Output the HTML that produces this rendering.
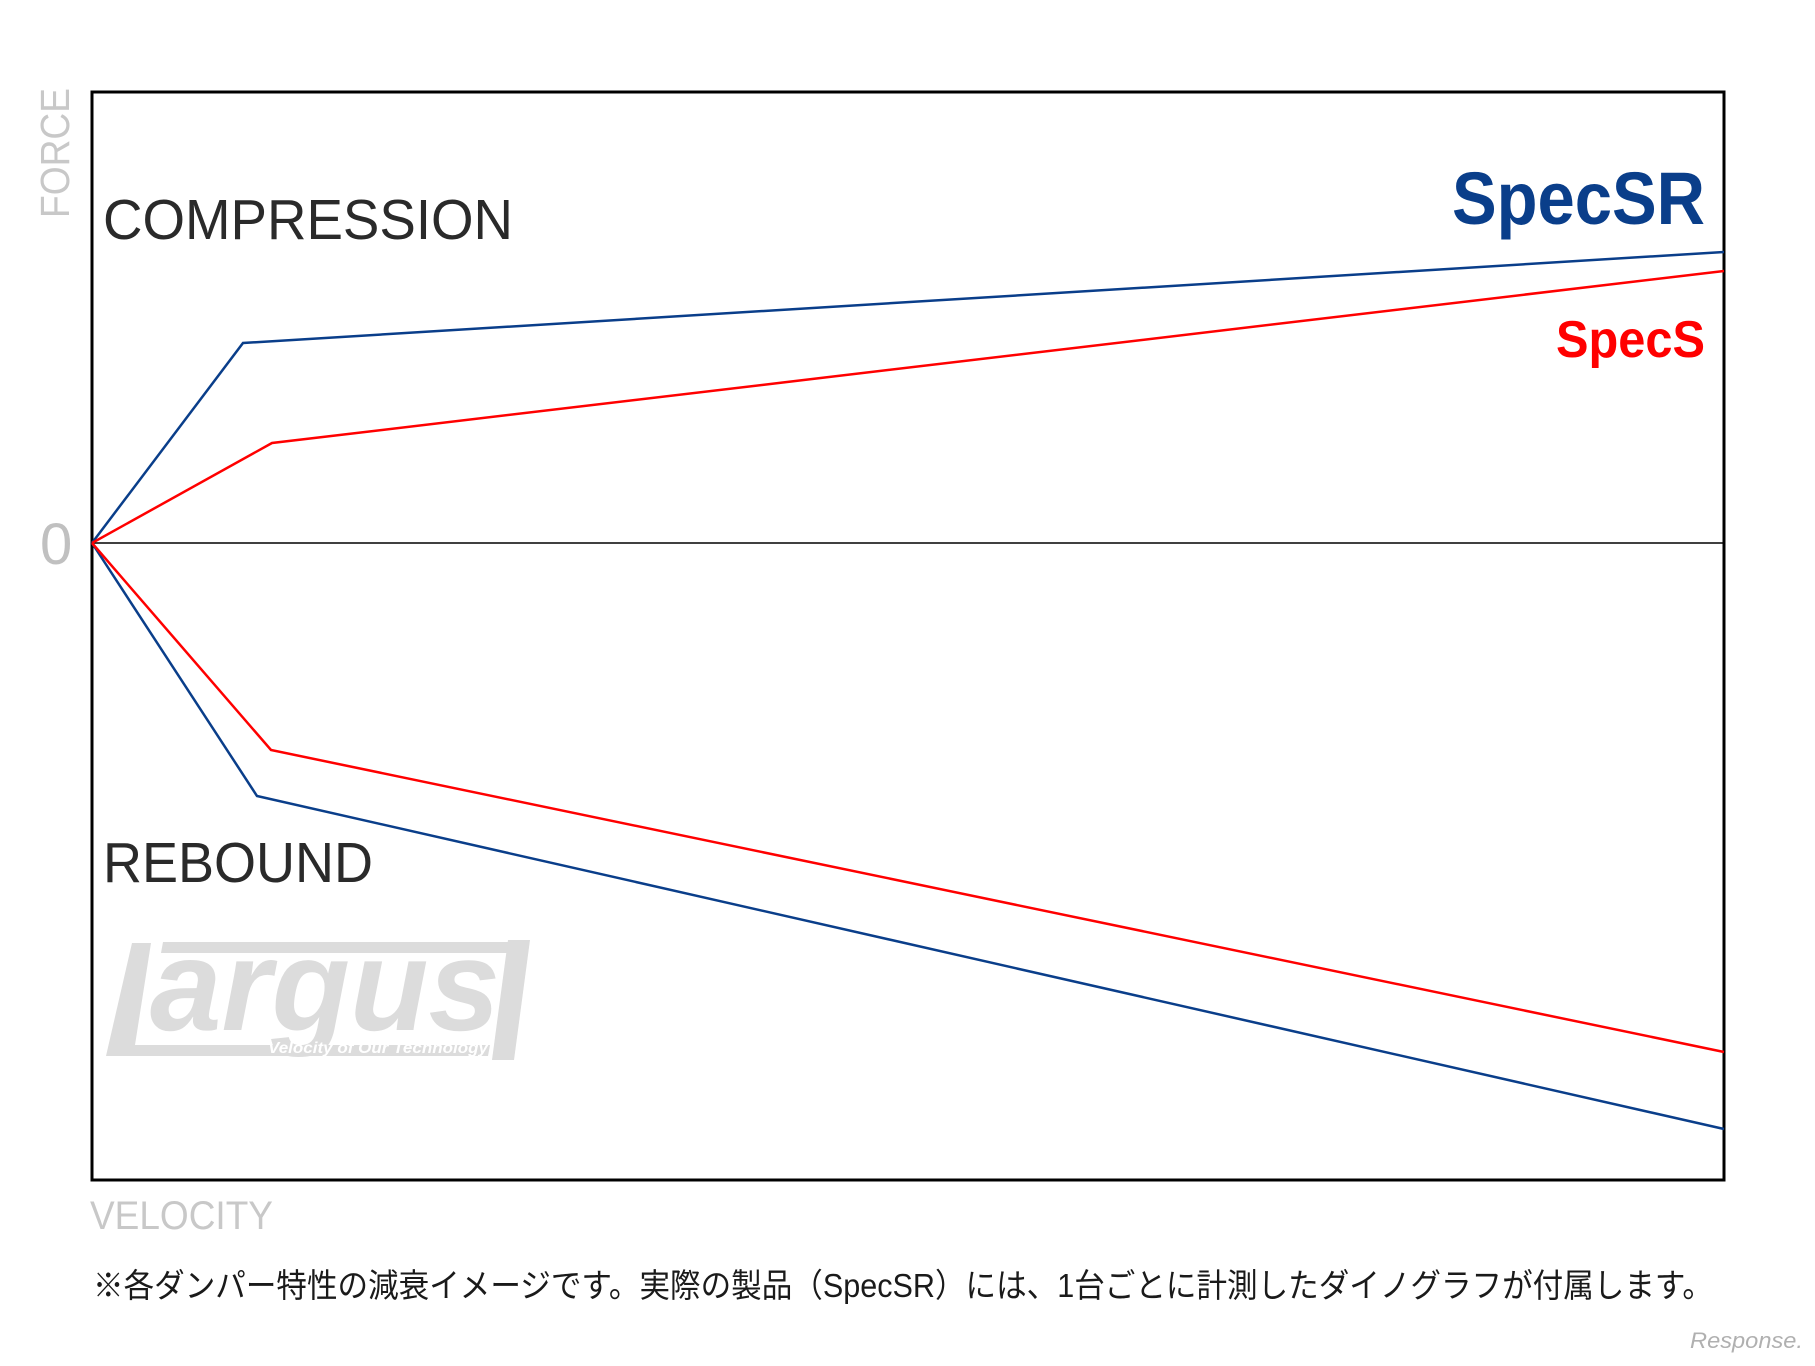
<!DOCTYPE html>
<html><head><meta charset="utf-8"><style>
html,body{margin:0;padding:0;background:#fff;}
body{width:1815px;height:1361px;overflow:hidden;}
</style></head><body>
<svg width="1815" height="1361" viewBox="0 0 1815 1361" xmlns="http://www.w3.org/2000/svg">
<rect width="1815" height="1361" fill="#fff"/>
<g fill="#dcdcdc">
<polygon points="132,943 151,943 135,1045 490,1045 488,1056 106,1056"/>
<polygon points="163,942 512,942 510,953 161,953"/>
<polygon points="508,940 530,940 514,1060 492,1060"/>
<text x="150" y="1030" font-family="Liberation Sans, sans-serif" font-weight="bold" font-style="italic" font-size="130" textLength="350" lengthAdjust="spacingAndGlyphs">argus</text>
</g>
<text x="268" y="1053" fill="#fff" font-family="Liberation Sans, sans-serif" font-style="italic" font-weight="bold" font-size="16" textLength="220" lengthAdjust="spacingAndGlyphs">Velocity of Our Technology</text>
<rect x="92" y="92" width="1632" height="1088" fill="none" stroke="#000" stroke-width="3"/>
<line x1="92" y1="543" x2="1724" y2="543" stroke="#000" stroke-width="1.5"/>
<polyline points="92,543 243,343 1724,252" fill="none" stroke="#0a3e8a" stroke-width="2.5"/>
<polyline points="92,543 272,443 1724,271" fill="none" stroke="#ff0000" stroke-width="2.5"/>
<polyline points="92,543 257,796 1724,1129" fill="none" stroke="#0a3e8a" stroke-width="2.5"/>
<polyline points="92,543 271,750 1724,1052" fill="none" stroke="#ff0000" stroke-width="2.5"/>
<text transform="translate(69,218) rotate(-90)" fill="#c8c8c8" font-family="Liberation Sans, sans-serif" font-size="41" textLength="130" lengthAdjust="spacingAndGlyphs">FORCE</text>
<text x="40" y="564" fill="#c0c0c0" font-family="Liberation Sans, sans-serif" font-size="58">0</text>
<text x="103" y="239" fill="#2a2a2a" font-family="Liberation Sans, sans-serif" font-size="57" textLength="410" lengthAdjust="spacingAndGlyphs">COMPRESSION</text>
<text x="103" y="882" fill="#2a2a2a" font-family="Liberation Sans, sans-serif" font-size="57" textLength="270" lengthAdjust="spacingAndGlyphs">REBOUND</text>
<text x="1452" y="224" fill="#0a3e8a" font-family="Liberation Sans, sans-serif" font-weight="bold" font-size="74" textLength="253" lengthAdjust="spacingAndGlyphs">SpecSR</text>
<text x="1556" y="357" fill="#ff0000" font-family="Liberation Sans, sans-serif" font-weight="bold" font-size="52" textLength="149" lengthAdjust="spacingAndGlyphs">SpecS</text>
<text x="90" y="1229" fill="#c8c8c8" font-family="Liberation Sans, sans-serif" font-size="40" textLength="183" lengthAdjust="spacingAndGlyphs">VELOCITY</text>
<text x="93" y="1297" fill="#1a1a1a" font-family="Liberation Sans, 'Noto Sans CJK JP', sans-serif" font-size="33" textLength="1620" lengthAdjust="spacingAndGlyphs">※各ダンパー特性の減衰イメージです。実際の製品（SpecSR）には、1台ごとに計測したダイノグラフが付属します。</text>
<text x="1690" y="1348" fill="#b0b0b0" font-family="Liberation Sans, sans-serif" font-style="italic" font-size="22" textLength="113" lengthAdjust="spacingAndGlyphs">Response.</text>
</svg>
</body></html>
